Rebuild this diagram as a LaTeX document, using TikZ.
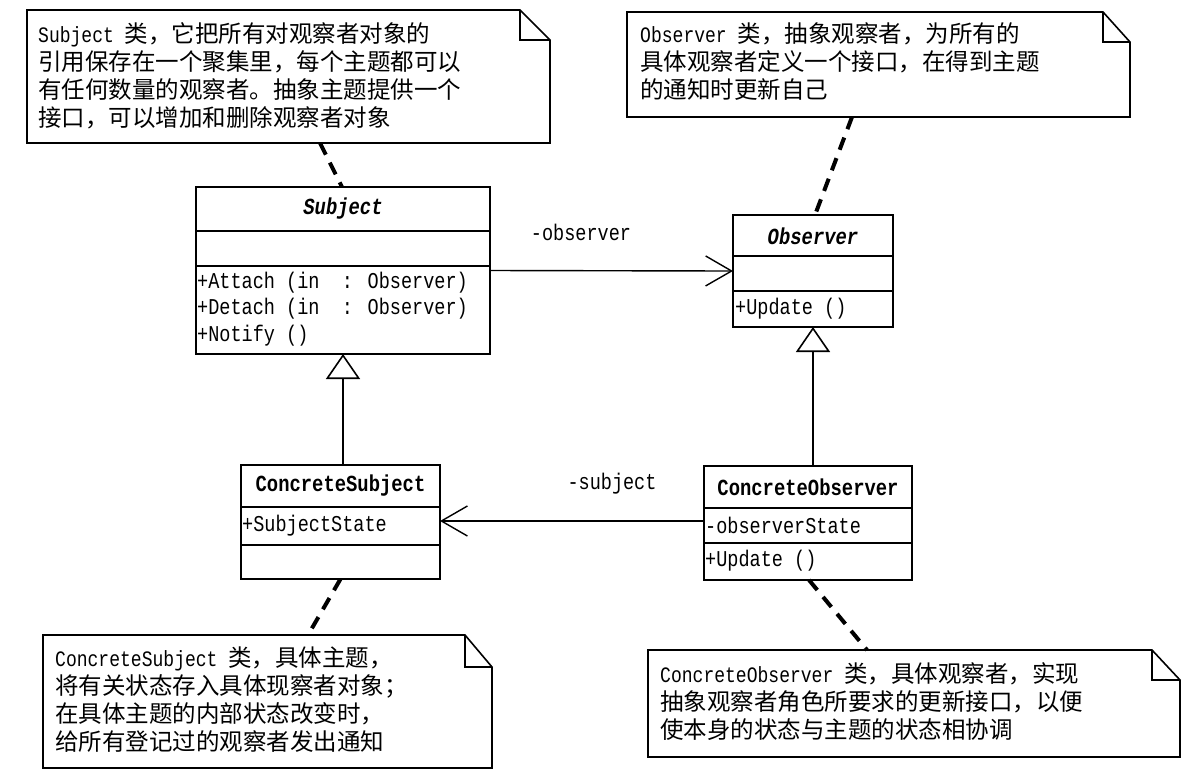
\documentclass[tikz,border=0pt]{standalone}
\usepackage{fontspec}
\setmainfont{Liberation Mono}[FakeStretch=0.82]
\newfontfamily\cjk{Noto Sans CJK SC}
\newcommand\zh[1]{{\cjk\fontsize{23.5}{28}\selectfont #1}}
\usetikzlibrary{arrows.meta}
\begin{document}
\begin{tikzpicture}[x=1pt,y=-1pt,
  frame/.style={inner sep=0pt, outer sep=0pt},
  classbox/.style={frame, draw, line width=1.8pt},
  divider/.style={line width=1.8pt},
  noteline/.style={line width=1.6pt, line join=miter},
  notetext/.style={inner sep=0pt, anchor=north west, align=left, font=\fontsize{22}{28}\selectfont},
  hdr/.style={inner sep=0pt, font=\fontsize{23}{26}\selectfont\bfseries},
  hdri/.style={inner sep=0pt, font=\fontsize{23}{26}\selectfont\bfseries\itshape},
  mem/.style={inner sep=0pt, anchor=west, font=\fontsize{22.6}{26}\selectfont},
  lbl/.style={inner sep=0pt, font=\fontsize{22.6}{26}\selectfont},
  assoc/.style={line width=1.4pt, -{Straight Barb[length=26pt,width=30pt,line width=1.4pt]}},
  gen/.style={line width=1.4pt, -{Triangle[open,length=25pt,width=34pt,line width=1.6pt,fill=white]}},
  anchorline/.style={line width=4pt, dash pattern=on 13pt off 9pt}
]
\useasboundingbox (0,0) rectangle (1204,780);
\fill[white] (0,0) rectangle (1204,780);

% ---------- notes ----------
\node[frame, minimum width=523pt, minimum height=133pt] (n1) at (288.5,76.5) {};
\draw[noteline] (n1.north west) -- ([xshift=-30pt]n1.north east) -- ([yshift=-30pt]n1.north east) -- (n1.south east) -- (n1.south west) -- cycle;
\draw[noteline] ([xshift=-30pt]n1.north east) |- ([yshift=-30pt]n1.north east);
\node[notetext] (t1) at (38,22) {Subject \zh{类，它把所有对观察者对象的}\\
\zh{引用保存在一个聚集里，每个主题都可以}\\
\zh{有任何数量的观察者。抽象主题提供一个}\\
\zh{接口，可以增加和删除观察者对象}};

\node[frame, minimum width=503pt, minimum height=105pt] (n2) at (878.5,64.5) {};
\draw[noteline] (n2.north west) -- ([xshift=-27pt]n2.north east) -- ([yshift=-30pt]n2.north east) -- (n2.south east) -- (n2.south west) -- cycle;
\draw[noteline] ([xshift=-27pt]n2.north east) |- ([yshift=-30pt]n2.north east);
\node[notetext] (t2) at (640,22) {Observer \zh{类，抽象观察者，为所有的}\\
\zh{具体观察者定义一个接口，在得到主题}\\
\zh{的通知时更新自己}};

\node[frame, minimum width=449pt, minimum height=133pt] (n3) at (267.5,701.5) {};
\draw[noteline] (n3.north west) -- ([xshift=-27pt]n3.north east) -- ([yshift=-32pt]n3.north east) -- (n3.south east) -- (n3.south west) -- cycle;
\draw[noteline] ([xshift=-27pt]n3.north east) |- ([yshift=-32pt]n3.north east);
\node[notetext] (t3) at (55,647) {ConcreteSubject \zh{类，具体主题，}\\
\zh{将有关状态存入具体现察者对象；}\\
\zh{在具体主题的内部状态改变时，}\\
\zh{给所有登记过的观察者发出通知}};

\node[frame, minimum width=532pt, minimum height=107pt] (n4) at (914,703.5) {};
\draw[noteline] (n4.north west) -- ([xshift=-28pt]n4.north east) -- ([yshift=-30pt]n4.north east) -- (n4.south east) -- (n4.south west) -- cycle;
\draw[noteline] ([xshift=-28pt]n4.north east) |- ([yshift=-30pt]n4.north east);
\node[notetext] (t4) at (660,662) {ConcreteObserver \zh{类，具体观察者，实现}\\
\zh{抽象观察者角色所要求的更新接口，以便}\\
\zh{使本身的状态与主题的状态相协调}};

% ---------- classes ----------
\node[classbox, minimum width=294pt, minimum height=167pt] (subj) at (343,270.5) {};
\draw[divider] ([yshift=-44pt]subj.north west) -- ([yshift=-44pt]subj.north east);
\draw[divider] ([yshift=-79pt]subj.north west) -- ([yshift=-79pt]subj.north east);
\node[hdri] (subjname) at (343,209) {Subject};
\node[mem] (subjm1) at (197,283) {+Attach (in\ \ : Observer)};
\node[mem] (subjm2) at (197,309) {+Detach (in\ \ : Observer)};
\node[mem] (subjm3) at (197,336) {+Notify ()};

\node[classbox, minimum width=160pt, minimum height=112pt] (obs) at (813,271) {};
\draw[divider] ([yshift=-41pt]obs.north west) -- ([yshift=-41pt]obs.north east);
\draw[divider] ([yshift=-76pt]obs.north west) -- ([yshift=-76pt]obs.north east);
\node[hdri] (obsname) at (813,236) {Observer};
\node[mem] (obsm1) at (735,309) {+Update ()};

\node[classbox, minimum width=199pt, minimum height=114pt] (csub) at (340.5,522) {};
\draw[divider] ([yshift=-42pt]csub.north west) -- ([yshift=-42pt]csub.north east);
\draw[divider] ([yshift=-80pt]csub.north west) -- ([yshift=-80pt]csub.north east);
\node[hdr] (csubname) at (340.5,486) {ConcreteSubject};
\node[mem] (csuba1) at (242,526) {+SubjectState};

\node[classbox, minimum width=208pt, minimum height=114pt] (cobs) at (808,523) {};
\draw[divider] ([yshift=-42pt]cobs.north west) -- ([yshift=-42pt]cobs.north east);
\draw[divider] ([yshift=-77pt]cobs.north west) -- ([yshift=-77pt]cobs.north east);
\node[hdr] (cobsname) at (808,487) {ConcreteObserver};
\node[mem] (cobsa1) at (705,525) {-observerState};
\node[mem] (cobsm1) at (705,561) {+Update ()};

% ---------- connectors ----------
\draw[assoc] (subj.east) -- (obs.west);
\node[lbl] (lobs) at (581,232) {-observer};
\draw[assoc] ([yshift=2pt]cobs.west) -- ([yshift=2pt]cobs.west -| csub.east);
\node[lbl] (lsub) at (612,484) {-subject};

\draw[gen] (subj.south |- csub.north) -- (subj.south);
\draw[gen] (obs.south |- cobs.north) -- (obs.south);

\draw[anchorline] ([xshift=31.5pt]n1.south) -- ([xshift=-1pt]subj.north);
\draw[anchorline] ([xshift=-26.5pt]n2.south) -- ([xshift=2pt]obs.north);
\draw[anchorline] (csub.south) -- ([xshift=40.5pt]n3.north);
\draw[anchorline] ([xshift=1pt]cobs.south) -- ([xshift=-47pt]n4.north);
\end{tikzpicture}
\end{document}
